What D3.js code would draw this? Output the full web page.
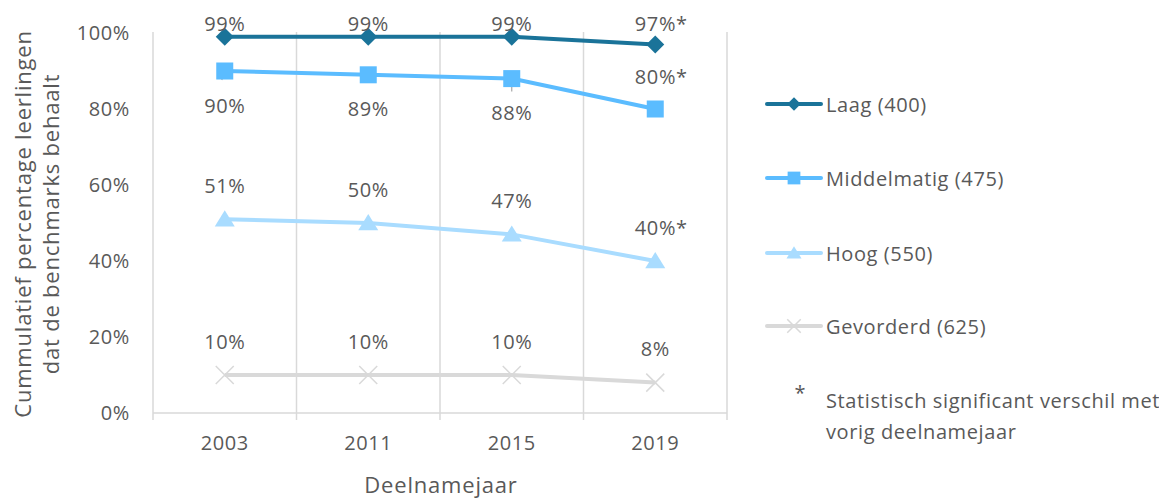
<!DOCTYPE html>
<html><head><meta charset="utf-8">
<script src="https://cdn.jsdelivr.net/npm/d3@7"></script>
<style>
body{margin:0;background:#fff;}
text{font-family:"Open Sans",sans-serif;fill:#595959;}
</style></head>
<body><svg id="c" width="1159" height="498"></svg>
<script>
const years = ["2003","2011","2015","2019"];
const laag = [99,99,99,97];
const middel = [90,89,88,80];
const hoog = [51,50,47,40];
const gevorderd = [10,10,10,8];
const laagLabels = ["99%","99%","99%","97%*"];
const middelLabels = ["90%","89%","88%","80%*"];
const hoogLabels = ["51%","50%","47%","40%*"];
const gevLabels = ["10%","10%","10%","8%"];
const yTicks = [0,20,40,60,80,100];
const seriesNames = ["Laag (400)","Middelmatig (475)","Hoog (550)","Gevorderd (625)"];

const svg = d3.select("#c");
const L=153, R=727, T=33, B=413;
const x = d3.scaleBand().domain(years).range([L,R]);
const y = d3.scaleLinear().domain([0,100]).range([B,T]);
const cx = d => x(d)+x.bandwidth()/2;
const grid="#d9d9d9";
const fs=20, ls="0.6px";

// vertical gridlines
const bounds = years.map(d=>x(d)).concat([R]);
svg.append("g").selectAll("line").data(bounds).join("line")
  .attr("x1",d=>d).attr("x2",d=>d).attr("y1",T-1).attr("y2",B+7)
  .attr("stroke",grid).attr("stroke-width",1.5);
svg.append("line").attr("x1",L).attr("x2",R).attr("y1",B).attr("y2",B).attr("stroke",grid).attr("stroke-width",1.5);

// y ticks
const ya = d3.axisLeft(y).tickValues(yTicks).tickFormat(d=>d+"%").tickSize(0).tickPadding(23);
const gy = svg.append("g").attr("transform",`translate(${L},0)`).call(ya);
gy.select(".domain").remove();
gy.selectAll("text").style("font-size",fs+"px").style("font-family","Open Sans").style("letter-spacing",ls).attr("fill","#595959");

const xa = d3.axisBottom(x).tickSize(0).tickPadding(23);
const gx = svg.append("g").attr("transform",`translate(0,${B})`).call(xa);
gx.select(".domain").remove();
gx.selectAll("text").style("font-size",fs+"px").style("font-family","Open Sans").style("letter-spacing",ls).attr("fill","#595959");

// axis titles
svg.append("text").attr("x",441).attr("y",493).attr("text-anchor","middle").style("font-size","22px").style("letter-spacing","0.8px").text("Deelnamejaar");
const yt = svg.append("text").attr("transform","translate(31,224) rotate(-90)").attr("text-anchor","middle").style("font-size","22px").style("letter-spacing","0.8px");
yt.append("tspan").attr("x",0).attr("dy",0).text("Cummulatief percentage leerlingen");
yt.append("tspan").attr("x",0).attr("dy",28).text("dat de benchmarks behaalt");

const line = d3.line().x((d,i)=>cx(years[i])).y(d=>y(d));
const colors = ["#1a7399","#5bbcff","#a9dcff","#d9d9d9"];
const data = [laag,middel,hoog,gevorderd];

// leader lines
svg.append("line").attr("x1",cx("2003")).attr("y1",y(90)+1).attr("x2",cx("2003")-3).attr("y2",y(90)+9).attr("stroke","#a6a6a6").attr("stroke-width",1.2);
svg.append("line").attr("x1",cx("2015")).attr("y1",y(88)+2).attr("x2",cx("2015")).attr("y2",y(88)+13).attr("stroke","#a6a6a6").attr("stroke-width",1.2);

data.forEach((s,k)=>{
  svg.append("path").datum(s).attr("d",line).attr("fill","none").attr("stroke",colors[k]).attr("stroke-width",4);
});

function marker(g,k,px,py,scale){
  scale = scale||1;
  if(k===0){
    const h=9*scale;
    g.append("path").attr("d",`M${px},${py-h}L${px+h},${py}L${px},${py+h}L${px-h},${py}Z`).attr("fill",colors[0]);
  } else if(k===1){
    const h=8.5*scale;
    g.append("rect").attr("x",px-h).attr("y",py-h).attr("width",2*h).attr("height",2*h).attr("fill",colors[1]);
  } else if(k===2){
    const w=10*scale, hh=9*scale;
    g.append("path").attr("d",`M${px},${py-hh}L${px+w},${py+hh*0.8}L${px-w},${py+hh*0.8}Z`).attr("fill",colors[2]);
  } else {
    const h=9*scale;
    g.append("path").attr("d",`M${px-h},${py-h}L${px+h},${py+h}M${px+h},${py-h}L${px-h},${py+h}`).attr("stroke",colors[3]).attr("stroke-width",1.5).attr("fill","none");
  }
}
data.forEach((s,k)=>{
  const g=svg.append("g");
  s.forEach((v,i)=>marker(g,k,cx(years[i]),y(v)));
});

// data labels
function labels(vals,labs,dyFn){
  svg.append("g").selectAll("text").data(vals).join("text")
   .attr("x",(d,i)=>cx(years[i]) + (labs[i].endsWith("*")?6:0))
   .attr("y",(d,i)=>dyFn(d,i)).attr("text-anchor","middle").attr("dominant-baseline","central")
   .style("font-size",fs+"px").style("letter-spacing",ls).text((d,i)=>labs[i]);
}
labels(laag,laagLabels,(d,i)=>23);
labels(middel,middelLabels,(d,i)=> i===3 ? y(d)-33 : y(d)+34);
labels(hoog,hoogLabels,(d,i)=>y(d)-34);
labels(gevorderd,gevLabels,(d,i)=>y(d)-34);

// legend
const legY=[104,178,253,326];
seriesNames.forEach((n,k)=>{
  const g=svg.append("g");
  g.append("line").attr("x1",767).attr("x2",821).attr("y1",legY[k]).attr("y2",legY[k]).attr("stroke",colors[k]).attr("stroke-width",4).attr("stroke-linecap","round");
  marker(g,k,794,legY[k],0.75);
  g.append("text").attr("x",826).attr("y",legY[k]).attr("dominant-baseline","central").style("font-size",fs+"px").style("letter-spacing",ls).text(n);
});
svg.append("text").attr("x",800).attr("y",392).attr("text-anchor","middle").attr("dominant-baseline","central").style("font-size",fs+"px").text("*");
svg.append("text").attr("x",826).attr("y",400).attr("dominant-baseline","central").style("font-size",fs+"px").style("letter-spacing",ls).text("Statistisch significant verschil met");
svg.append("text").attr("x",826).attr("y",431).attr("dominant-baseline","central").style("font-size",fs+"px").style("letter-spacing",ls).text("vorig deelnamejaar");
</script></body></html>
